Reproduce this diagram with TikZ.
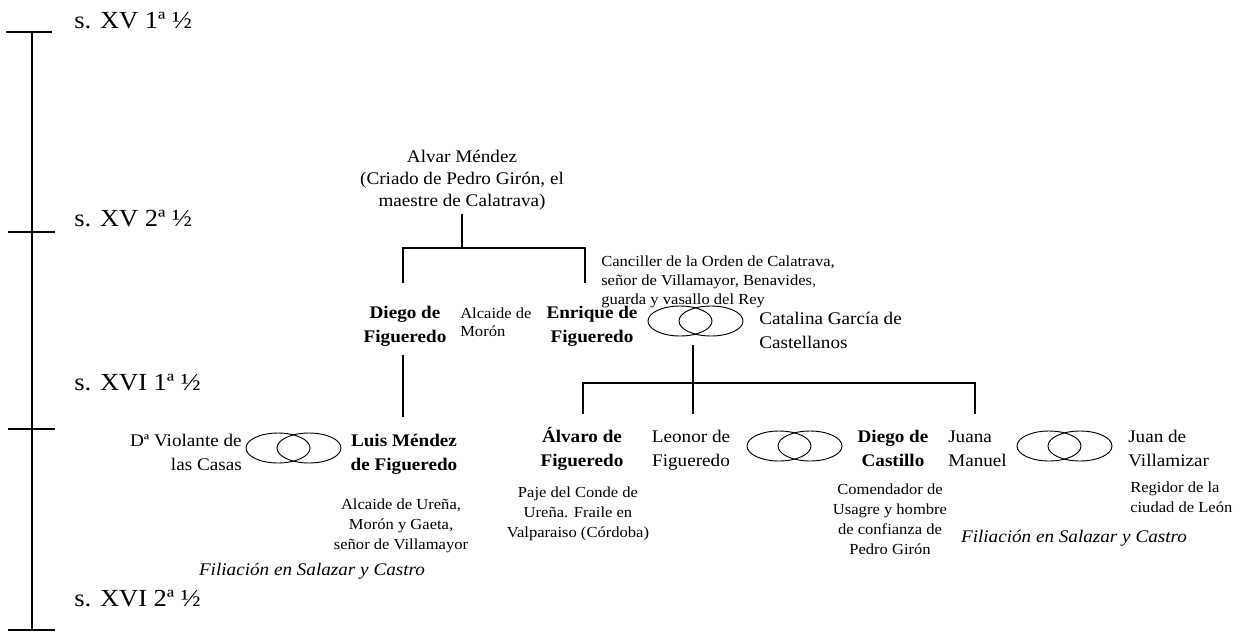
\documentclass[tikz,border=0pt]{standalone}
\usepackage{fontspec}
\setmainfont{Liberation Serif}[FakeStretch=1.08]
\usetikzlibrary{shapes.geometric}
\newcommand\fsz[2]{\fontsize{#1}{#2}\selectfont}
\newcommand\blk[2]{\begin{tabular}[t]{@{}#1@{}}#2\end{tabular}}
\tikzset{
  tline/.style={line width=1.5pt},
  brk/.style={line width=1.4pt},
  thinl/.style={line width=0.9pt},
  ring/.style={draw, ellipse, inner sep=0pt, minimum width=48pt, minimum height=22.5pt, line width=0.7pt},
  tlabel/.style={anchor=base west, inner sep=0pt, font=\fsz{18.4}{21}},
  pname/.style={anchor=base, inner sep=0pt, font=\fsz{13.3}{18}\bfseries},
  bigt/.style={inner sep=0pt, font=\fsz{13.3}{18}},
  smallt/.style={inner sep=0pt, font=\fsz{11.5}{15}},
  filt/.style={anchor=base, inner sep=0pt, font=\fsz{13.3}{18}\itshape},
}
\begin{document}
\begin{tikzpicture}[x=0.75pt,y=-0.75pt]
\useasboundingbox (0,0) rectangle (1247,633);
% timeline
\coordinate (t0) at (32,32);
\coordinate (t1) at (32,232);
\coordinate (t2) at (32,429);
\coordinate (t3) at (32,630);
\draw[tline] (t0) -- (t3);
\draw[tline] ([xshift=-19.5pt]t0) -- ([xshift=15pt]t0);
\draw[tline] ([xshift=-18pt]t1) -- ([xshift=17pt]t1);
\draw[tline] ([xshift=-18pt]t2) -- ([xshift=17pt]t2);
\draw[tline] ([xshift=-18pt]t3) -- ([xshift=17pt]t3);
\node[tlabel] (l0) at (74,28) {s. XV 1ª ½};
\node[tlabel] (l1) at (74,226) {s. XV 2ª ½};
\node[tlabel] (l2) at (74,390) {s. XVI 1ª ½};
\node[tlabel] (l3) at (74,606) {s. XVI 2ª ½};

% generation 1
\node[bigt, anchor=base, font=\fsz{13.3}{16.8}] (alvar) at (462,162) {\blk{c}{Alvar Méndez\\(Criado de Pedro Girón, el\\maestre de Calatrava)}};
\coordinate (j1) at (462,248);
\coordinate (dl) at (403,283);
\coordinate (el) at (585,283);
\draw[thinl] (alvar.south) -- (j1);
\draw[brk] (dl) |- (j1) -| (el);

% generation 2
\node[pname] (diego) at (405,318) {\blk{c}{Diego de\\Figueredo}};
\node[smallt, anchor=base west, font=\fsz{11.5}{13.5}] (alc1) at (460,318) {\blk{l}{Alcaide de\\Morón}};
\node[pname] (enrique) at (592,318) {\blk{c}{Enrique de\\Figueredo}};
\node[smallt, anchor=base west, font=\fsz{11.5}{14.25}] (canc) at (601,266) {\blk{l}{Canciller de la Orden de Calatrava,\\señor de Villamayor, Benavides,\\guarda y vasallo del Rey}};
\node[ring] (m1a) at (680,321) {};
\node[ring] (m1b) at (711,321) {};
\node[bigt, anchor=base west] (cata) at (759,324) {\blk{l}{Catalina García de\\Castellanos}};

\coordinate (m1) at (693,345);
\coordinate (j2) at (693,383);
\coordinate (al) at (583,414);
\coordinate (ll) at (693,414);
\coordinate (jl) at (975,414);
\draw[thinl] (m1) -- (j2);
\draw[brk] (al) |- (j2) -| (jl);
\draw[thinl] (j2) -- (ll);

\coordinate (d1) at (403,355);
\coordinate (d2) at (403,417);
\draw[brk] (d1) -- (d2);

% generation 3
\node[bigt, anchor=base east] (viol) at (242,446) {\blk{r}{Dª Violante de\\las Casas}};
\node[ring] (m2a) at (278,448) {};
\node[ring] (m2b) at (309,448) {};
\node[pname] (luis) at (404,446) {\blk{c}{Luis Méndez\\de Figueredo}};
\node[smallt, anchor=base] (alc2) at (401,509) {\blk{c}{Alcaide de Ureña,\\Morón y Gaeta,\\señor de Villamayor}};
\node[filt] (fil1) at (312,575) {Filiación en Salazar y Castro};

\node[pname] (alvaro) at (582,442) {\blk{c}{Álvaro de\\Figueredo}};
\node[smallt, anchor=base] (paje) at (578,497) {\blk{c}{Paje del Conde de\\Ureña. Fraile en\\Valparaiso (Córdoba)}};
\node[bigt, anchor=base] (leonor) at (691,442) {\blk{c}{Leonor de\\Figueredo}};
\node[ring] (m3a) at (779,446) {};
\node[ring] (m3b) at (810,446) {};
\node[pname] (diegoc) at (893,442) {\blk{c}{Diego de\\Castillo}};
\node[smallt, anchor=base] (comen) at (890,494) {\blk{c}{Comendador de\\Usagre y hombre\\de confianza de\\Pedro Girón}};
\node[bigt, anchor=base west] (juana) at (948,442) {\blk{l}{Juana\\Manuel}};
\node[ring] (m4a) at (1049,446) {};
\node[ring] (m4b) at (1080,446) {};
\node[bigt, anchor=base west] (juan) at (1128,442) {\blk{l}{Juan de\\Villamizar}};
\node[smallt, anchor=base west] (regi) at (1130,492) {\blk{l}{Regidor de la\\ciudad de León}};
\node[filt] (fil2) at (1074,542) {Filiación en Salazar y Castro};
\end{tikzpicture}
\end{document}
